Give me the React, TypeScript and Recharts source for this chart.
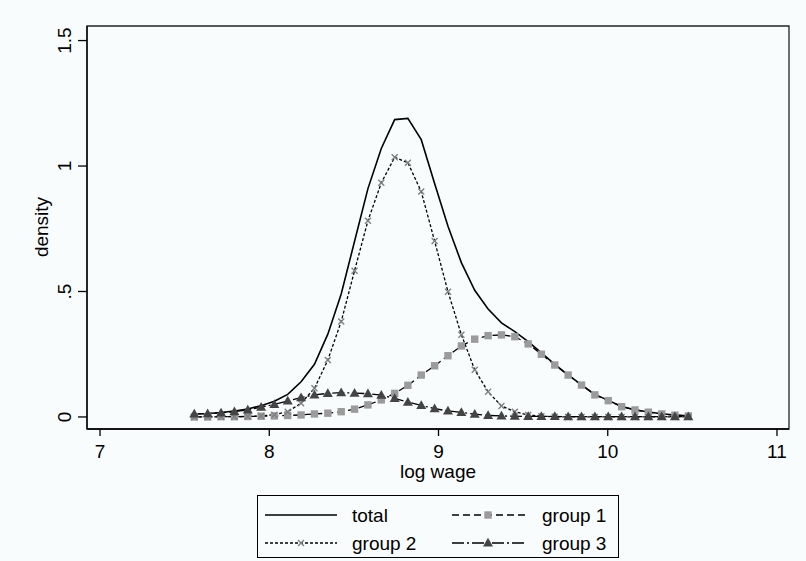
import React from 'react';
import { LineChart, Line, XAxis, YAxis, ReferenceArea, Legend } from 'recharts';

const xGrid = [
  7.557, 7.636, 7.715, 7.794, 7.873, 7.952, 8.03, 8.109, 8.188, 8.267,
  8.346, 8.425, 8.504, 8.583, 8.662, 8.741, 8.819, 8.898, 8.977, 9.056,
  9.135, 9.214, 9.293, 9.372, 9.451, 9.53, 9.608, 9.687, 9.766, 9.845,
  9.924, 10.003, 10.082, 10.161, 10.24, 10.319, 10.397, 10.476,
];

const total = [
  0.012, 0.014, 0.018, 0.024, 0.032, 0.045, 0.063, 0.09, 0.14, 0.21,
  0.33, 0.49, 0.7, 0.91, 1.07, 1.185, 1.19, 1.105, 0.93, 0.76,
  0.615, 0.505, 0.43, 0.375, 0.34, 0.3, 0.255, 0.21, 0.168, 0.128,
  0.09, 0.066, 0.042, 0.029, 0.02, 0.013, 0.008, 0.005,
];

const group1 = [
  0.0, 0.0, 0.001, 0.001, 0.002, 0.003, 0.004, 0.006, 0.008, 0.012,
  0.015, 0.021, 0.031, 0.048, 0.068, 0.094, 0.126, 0.167, 0.204, 0.244,
  0.283, 0.31, 0.324, 0.327, 0.32, 0.291, 0.25, 0.207, 0.167, 0.127,
  0.088, 0.065, 0.041, 0.028, 0.019, 0.012, 0.007, 0.004,
];

const group2 = [
  0.0, 0.0, 0.001, 0.001, 0.002, 0.004, 0.009, 0.021, 0.055, 0.114,
  0.227, 0.38, 0.583, 0.782, 0.933, 1.035, 1.013, 0.898, 0.701, 0.499,
  0.328, 0.188, 0.1, 0.044, 0.021, 0.008, 0.003, 0.001, 0.0, 0.0,
  0.0, 0.0, 0.0, 0.0, 0.0, 0.0, 0.0, 0.0,
];

const group3 = [
  0.012, 0.013, 0.016, 0.021, 0.028, 0.039, 0.05, 0.064, 0.077, 0.088,
  0.094, 0.097, 0.095, 0.093, 0.087, 0.074, 0.059, 0.046, 0.033, 0.024,
  0.018, 0.011, 0.006, 0.004, 0.003, 0.002, 0.002, 0.002, 0.001, 0.001,
  0.001, 0.001, 0.001, 0.001, 0.001, 0.001, 0.001, 0.001,
];

const xTicks = [7, 8, 9, 10, 11];
const yTicks = [0, 0.5, 1, 1.5];
const yTickLabels = ['0', '.5', '1', '1.5'];
const seriesNames = ['total', 'group 1', 'group 2', 'group 3'];

const data = xGrid.map((x, i) => ({
  x,
  total: total[i],
  g1: group1[i],
  g2: group2[i],
  g3: group3[i],
}));

const FONT = '"Liberation Sans", Arial, Helvetica, sans-serif';
const BG = '#f8fcfc';
const X_DOMAIN: [number, number] = [6.923, 11.071];
const Y_DOMAIN: [number, number] = [-0.048, 1.558];

const SQ_FILL = '#9b9b9b';
const X_STROKE = '#808080';
const TRI_FILL = '#444444';

const squareShape = (cx: number, cy: number, key?: any) => (
  <rect key={key} x={cx - 3.7} y={cy - 3.7} width={7.4} height={7.4} fill={SQ_FILL} />
);
const crossShape = (cx: number, cy: number, key?: any) => (
  <g key={key} stroke={X_STROKE} strokeWidth={1.4}>
    <line x1={cx - 3} y1={cy - 3} x2={cx + 3} y2={cy + 3} />
    <line x1={cx - 3} y1={cy + 3} x2={cx + 3} y2={cy - 3} />
  </g>
);
const triShape = (cx: number, cy: number, key?: any) => (
  <polygon
    key={key}
    points={`${cx},${cy - 5.2} ${cx - 5},${cy + 3.6} ${cx + 5},${cy + 3.6}`}
    fill={TRI_FILL}
  />
);

const SquareDot = (p: any) => (p.cx == null ? null : squareShape(p.cx, p.cy, p.key ?? `s${p.index}`));
const CrossDot = (p: any) => (p.cx == null ? null : crossShape(p.cx, p.cy, p.key ?? `c${p.index}`));
const TriDot = (p: any) => (p.cx == null ? null : triShape(p.cx, p.cy, p.key ?? `t${p.index}`));

const YTick = (props: any) => {
  const { y, payload } = props;
  const idx = yTicks.indexOf(payload.value);
  const label = idx >= 0 ? yTickLabels[idx] : String(payload.value);
  return (
    <text
      x={65}
      y={y}
      transform={`rotate(-90, 65, ${y})`}
      textAnchor="middle"
      dominantBaseline="central"
      fontSize={19}
      fontFamily={FONT}
      fill="#000"
    >
      {label}
    </text>
  );
};

const YLabel = () => (
  <text
    x={41}
    y={227}
    transform="rotate(-90, 41, 227)"
    textAnchor="middle"
    dominantBaseline="central"
    fontSize={19}
    fontFamily={FONT}
    fill="#000"
  >
    density
  </text>
);

const LegendBox = () => {
  const r1 = 20;
  const r2 = 48;
  const txt = { fontSize: 19, fontFamily: FONT, fill: '#000', dominantBaseline: 'central' as const };
  return (
    <svg width={362} height={63} style={{ display: 'block' }}>
      <rect x={0.5} y={0.5} width={361} height={62} fill="none" stroke="#000" strokeWidth={1} />
      {/* total */}
      <line x1={8} y1={r1} x2={80} y2={r1} stroke="#000" strokeWidth={1.6} />
      <text x={95} y={r1} {...txt}>{seriesNames[0]}</text>
      {/* group 1 */}
      <line x1={195} y1={r1} x2={268} y2={r1} stroke="#000" strokeWidth={1.3} strokeDasharray="7 4" />
      {squareShape(231, r1)}
      <text x={285} y={r1} {...txt}>{seriesNames[1]}</text>
      {/* group 2 */}
      <line x1={8} y1={r2} x2={80} y2={r2} stroke="#000" strokeWidth={1.3} strokeDasharray="3 2" />
      {crossShape(44, r2)}
      <text x={95} y={r2} {...txt}>{seriesNames[2]}</text>
      {/* group 3 */}
      <line x1={195} y1={r2} x2={268} y2={r2} stroke="#000" strokeWidth={1.3} strokeDasharray="12 3 2 3" />
      {triShape(231, r2)}
      <text x={285} y={r2} {...txt}>{seriesNames[3]}</text>
    </svg>
  );
};

export default function App() {
  return (
    <div style={{ position: 'absolute', left: 0, top: 0, width: 806, height: 561, background: BG }}>
      <LineChart
        width={806}
        height={561}
        data={data}
        margin={{ top: 26, right: 17, bottom: 77, left: 0 }}
        style={{ background: BG }}
      >
        <ReferenceArea
          x1={X_DOMAIN[0]}
          x2={X_DOMAIN[1]}
          y1={Y_DOMAIN[0]}
          y2={Y_DOMAIN[1]}
          fill="none"
          stroke="#222"
          strokeWidth={1.3}
          ifOverflow="visible"
        />
        <XAxis
          dataKey="x"
          type="number"
          domain={X_DOMAIN}
          ticks={xTicks}
          allowDataOverflow
          height={55}
          tickSize={7}
          tickMargin={9}
          axisLine={{ stroke: '#000', strokeWidth: 1.3 }}
          tickLine={{ stroke: '#000', strokeWidth: 1.3 }}
          tick={{ fontSize: 19, fontFamily: FONT, fill: '#000' }}
          label={{ value: 'log wage', position: 'insideBottom', offset: 6, fontSize: 19, fontFamily: FONT, fill: '#000' }}
        />
        <YAxis
          type="number"
          domain={Y_DOMAIN}
          ticks={yTicks}
          allowDataOverflow
          width={87}
          tickSize={9}
          axisLine={{ stroke: '#000', strokeWidth: 1.3 }}
          tickLine={{ stroke: '#000', strokeWidth: 1.3 }}
          tick={<YTick />}
          label={<YLabel />}
        />
        <Line
          type="linear"
          dataKey="total"
          name={seriesNames[0]}
          stroke="#000"
          strokeWidth={1.6}
          dot={false}
          isAnimationActive={false}
        />
        <Line
          type="linear"
          dataKey="g1"
          name={seriesNames[1]}
          stroke="#000"
          strokeWidth={1.3}
          strokeDasharray="7 4"
          dot={SquareDot}
          activeDot={false}
          isAnimationActive={false}
        />
        <Line
          type="linear"
          dataKey="g2"
          name={seriesNames[2]}
          stroke="#000"
          strokeWidth={1.3}
          strokeDasharray="3 2"
          dot={CrossDot}
          activeDot={false}
          isAnimationActive={false}
        />
        <Line
          type="linear"
          dataKey="g3"
          name={seriesNames[3]}
          stroke="#000"
          strokeWidth={1.3}
          strokeDasharray="12 3 2 3"
          dot={TriDot}
          activeDot={false}
          isAnimationActive={false}
        />
        <Legend
          layout="horizontal"
          verticalAlign="middle"
          align="center"
          content={<LegendBox />}
          wrapperStyle={{ position: 'absolute', left: 257, top: 495, width: 362, height: 63, margin: 0, padding: 0 }}
        />
      </LineChart>
    </div>
  );
}
